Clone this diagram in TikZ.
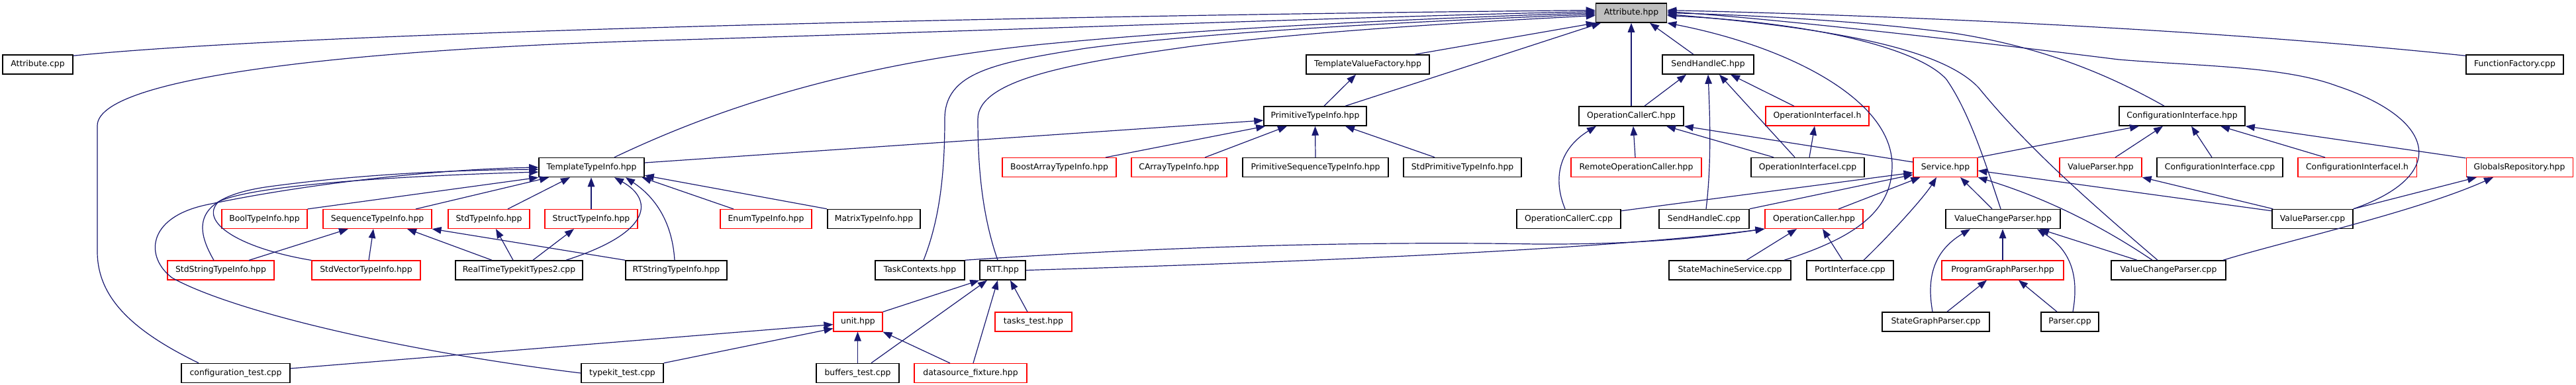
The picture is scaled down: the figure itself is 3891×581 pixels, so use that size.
\documentclass[tikz,border=0pt]{standalone}
\usepackage{fontspec}
\setmainfont{DejaVu Sans}
\usetikzlibrary{arrows.meta}
\definecolor{edgeblue}{HTML}{191970}
\definecolor{boxred}{HTML}{FF0000}
\definecolor{rootgray}{HTML}{BFBFBF}
\tikzset{
  nbox/.style={draw=black, line width=1.5pt, minimum height=29pt, inner xsep=3pt, inner ysep=0pt,
    font=\fontsize{12.4}{14}\selectfont, fill=white},
  rbox/.style={nbox, draw=boxred, line width=1.1pt},
  gbox/.style={nbox, fill=rootgray},
  dep/.style={draw=edgeblue, line width=1.2pt, -{Triangle[length=14pt,width=10.5pt]}},
}
\begin{document}
\begin{tikzpicture}[x=1pt,y=-1pt]
\useasboundingbox (0,0) rectangle (3891,581);
% row 0
\node[gbox, minimum width=107pt] (attrh) at (2464,19.5) {Attribute.hpp};
% row 1
\node[nbox, minimum width=106pt] (attrcpp) at (57,97.5) {Attribute.cpp};
\node[nbox, minimum width=186pt] (tvf) at (2066,97.5) {TemplateValueFactory.hpp};
\node[nbox, minimum width=138pt] (shch) at (2580,97.5) {SendHandleC.hpp};
\node[nbox, minimum width=147pt] (ffcpp) at (3798.5,97.5) {FunctionFactory.cpp};
% row 2
\node[nbox, minimum width=155pt] (pti) at (1986.5,175.5) {PrimitiveTypeInfo.hpp};
\node[nbox, minimum width=158pt] (occh) at (2464,175.5) {OperationCallerC.hpp};
\node[rbox, minimum width=156pt] (oiih) at (2745,175.5) {OperationInterfaceI.h};
\node[nbox, minimum width=190pt] (cih) at (3296,175.5) {ConfigurationInterface.hpp};
% row 3
\node[nbox, minimum width=159pt] (tti) at (893.5,253) {TemplateTypeInfo.hpp};
\node[rbox, minimum width=172pt] (bati) at (1600,253) {BoostArrayTypeInfo.hpp};
\node[rbox, minimum width=144pt] (cati) at (1781,253) {CArrayTypeInfo.hpp};
\node[nbox, minimum width=220pt] (psti) at (1987,253) {PrimitiveSequenceTypeInfo.hpp};
\node[nbox, minimum width=178pt] (spti) at (2209,253) {StdPrimitiveTypeInfo.hpp};
\node[rbox, minimum width=197pt] (roch) at (2471.5,253) {RemoteOperationCaller.hpp};
\node[nbox, minimum width=171pt] (oiicpp) at (2730.5,253) {OperationInterfaceI.cpp};
\node[rbox, minimum width=97pt] (svch) at (2938.5,253) {Service.hpp};
\node[rbox, minimum width=124pt] (vph) at (3173,253) {ValueParser.hpp};
\node[nbox, minimum width=190pt] (cicpp) at (3353,253) {ConfigurationInterface.cpp};
\node[rbox, minimum width=179pt] (ciih) at (3560.5,253) {ConfigurationInterfaceI.h};
\node[rbox, minimum width=161pt] (grh) at (3805.5,253) {GlobalsRepository.hpp};
% row 4
\node[rbox, minimum width=129pt] (boolti) at (399.5,331) {BoolTypeInfo.hpp};
\node[rbox, minimum width=164pt] (seqti) at (570,331) {SequenceTypeInfo.hpp};
\node[rbox, minimum width=123pt] (stdti) at (738.5,331) {StdTypeInfo.hpp};
\node[rbox, minimum width=140pt] (structti) at (893,331) {StructTypeInfo.hpp};
\node[rbox, minimum width=138pt] (enumti) at (1157,331) {EnumTypeInfo.hpp};
\node[nbox, minimum width=140pt] (matti) at (1320,331) {MatrixTypeInfo.hpp};
\node[nbox, minimum width=157pt] (occcpp) at (2369.5,331) {OperationCallerC.cpp};
\node[nbox, minimum width=136pt] (shccpp) at (2574,331) {SendHandleC.cpp};
\node[rbox, minimum width=148pt] (och) at (2740,331) {OperationCaller.hpp};
\node[nbox, minimum width=173pt] (vcph) at (3025.5,331) {ValueChangeParser.hpp};
\node[nbox, minimum width=122pt] (vpcpp) at (3493,331) {ValueParser.cpp};
% row 5
\node[rbox, minimum width=161pt] (sstrti) at (333.5,408.5) {StdStringTypeInfo.hpp};
\node[rbox, minimum width=164pt] (svecti) at (553,408.5) {StdVectorTypeInfo.hpp};
\node[nbox, minimum width=192pt] (rtkt) at (784,408.5) {RealTimeTypekitTypes2.cpp};
\node[nbox, minimum width=153pt] (rtsti) at (1021.5,408.5) {RTStringTypeInfo.hpp};
\node[nbox, minimum width=135pt] (tch) at (1389.5,408.5) {TaskContexts.hpp};
\node[nbox, minimum width=69pt] (rtth) at (1514.5,408.5) {RTT.hpp};
\node[nbox, minimum width=184pt] (smscpp) at (2613,408.5) {StateMachineService.cpp};
\node[nbox, minimum width=131pt] (picpp) at (2794.5,408.5) {PortInterface.cpp};
\node[rbox, minimum width=184pt] (pgph) at (3025,408.5) {ProgramGraphParser.hpp};
\node[nbox, minimum width=173pt] (vcpcpp) at (3275.5,408.5) {ValueChangeParser.cpp};
% row 6
\node[rbox, minimum width=74pt] (unith) at (1296,486.5) {unit.hpp};
\node[rbox, minimum width=116pt] (tth) at (1561,486.5) {tasks\_test.hpp};
\node[nbox, minimum width=162pt] (sgpcpp) at (2924,486.5) {StateGraphParser.cpp};
\node[nbox, minimum width=87pt] (pcpp) at (3126.5,486.5) {Parser.cpp};
% row 7
\node[nbox, minimum width=164pt] (ctcpp) at (356,564) {configuration\_test.cpp};
\node[nbox, minimum width=124pt] (ktcpp) at (940,564) {typekit\_test.cpp};
\node[nbox, minimum width=125pt] (btcpp) at (1295.5,564) {buffers\_test.cpp};
\node[rbox, minimum width=170pt] (dsfh) at (1466,564) {datasource\_fixture.hpp};

% ---- edges into Attribute.hpp
\draw[dep] ([yshift=-2pt]attrcpp.north east) .. controls (500,45) and (1700,22) .. ([yshift=4pt]attrh.west);
\draw[dep] ([xshift=-56pt]ctcpp.north) .. controls (200,500) and (147,450) .. (147,380) -- (147,190)
  .. controls (147,110) and (600,72) .. (1000,61) .. controls (1500,46) and (2100,24) .. ([yshift=2pt]attrh.west);
\draw[dep] ([xshift=34.5pt]tti.north) .. controls (1050,180) and (1250,100) .. (1574,67)
  .. controls (1850,40) and (2200,26) .. (attrh.west);
\draw[dep] ([xshift=5.5pt]tch.north) .. controls (1420,330) and (1427,260) .. (1427,180)
  .. controls (1427,110) and (1500,95) .. (1640,73) .. controls (1850,45) and (2200,30) .. ([yshift=-2pt]attrh.west);
\draw[dep] ([xshift=-7.5pt]rtth.north) .. controls (1485,330) and (1477,260) .. (1477,180)
  .. controls (1477,120) and (1620,95) .. (1800,70) .. controls (2000,45) and (2250,32) .. ([yshift=-4pt]attrh.west);
\draw[dep] ([xshift=71pt]tvf.north) -- (attrh.south west);
\draw[dep] ([xshift=45.5pt]pti.north) -- ([xshift=-46pt]attrh.south);
\draw[dep] (occh.north) -- (attrh.south);
\draw[dep] ([xshift=-22pt]shch.north) -- ([xshift=28pt]attrh.south);
\draw[dep] ([yshift=-2pt]ffcpp.north west) .. controls (3300,40) and (2800,22) .. ([yshift=4pt]attrh.east);
\draw[dep] (vpcpp.north east) .. controls (3700,265) and (3680,180) .. (3530,130)
  .. controls (3450,100) and (3320,100) .. (3200,90) .. controls (3000,65) and (2700,30) .. ([yshift=2pt]attrh.east);
\draw[dep] ([xshift=-27pt]cih.north) .. controls (3180,110) and (3080,70) .. (2950,50)
  .. controls (2800,30) and (2620,22) .. (attrh.east);
\draw[dep] ([xshift=-16.5pt]vcpcpp.north) .. controls (3150,300) and (3060,220) .. (2989,133)
  .. controls (2940,80) and (2800,45) .. ([yshift=-2pt]attrh.east);
\draw[dep] ([xshift=-3.5pt]vcph.north) .. controls (3000,250) and (2975,170) .. (2940,120)
  .. controls (2900,75) and (2750,35) .. ([yshift=-4pt]attrh.east);
\draw[dep] ([xshift=82pt]smscpp.north) .. controls (2800,360) and (2858,320) .. (2858,250)
  .. controls (2858,150) and (2700,70) .. (attrh.south east);

% ---- TemplateTypeInfo.hpp
\draw[dep] ([yshift=7pt]tti.east) -- ([yshift=-6.5pt]pti.west);
\draw[dep] (boolti.north east) -- (tti.south west);
\draw[dep] ([xshift=58pt]seqti.north) -- ([xshift=-64.5pt]tti.south);
\draw[dep] ([xshift=28.5pt]stdti.north) -- ([xshift=-32.5pt]tti.south);
\draw[dep] (structti.north) -- ([xshift=-0.5pt]tti.south);
\draw[dep] ([xshift=-10.5pt]sstrti.north) .. controls (295,345) and (290,300) .. (400,283)
  .. controls (550,262) and (700,257) .. ([yshift=-3pt]tti.west);
\draw[dep] (svecti.north west) .. controls (360,375) and (300,335) .. (330,305)
  .. controls (380,280) and (600,266) .. ([yshift=-7pt]tti.west);
\draw[dep] (ktcpp.west) .. controls (600,530) and (350,470) .. (260,420)
  .. controls (220,390) and (220,330) .. (310,310) .. controls (450,280) and (650,256) .. (tti.west);
\draw[dep] ([xshift=71pt]rtkt.north) .. controls (990,350) and (985,300) .. ([xshift=34.5pt]tti.south);
\draw[dep] ([xshift=-2.5pt]rtsti.north) .. controls (1015,330) and (985,295) .. ([xshift=51.5pt]tti.south);
\draw[dep] ([xshift=-49pt]enumti.north) -- ([xshift=-4pt]tti.south east);
\draw[dep] ([xshift=-71pt]matti.north) -- ([yshift=3pt]tti.south east);

% ---- SequenceTypeInfo etc.
\draw[dep] ([xshift=42.5pt]sstrti.north) -- ([xshift=-44pt]seqti.south);
\draw[dep] ([xshift=4pt]svecti.north) -- ([xshift=-6pt]seqti.south);
\draw[dep] ([xshift=-41pt]rtkt.north) -- ([xshift=45pt]seqti.south);
\draw[dep] ([xshift=-77.5pt]rtsti.north) -- (seqti.south east);
\draw[dep] ([xshift=-9pt]rtkt.north) -- ([xshift=10.5pt]stdti.south);
\draw[dep] ([xshift=21pt]rtkt.north) -- ([xshift=-26pt]structti.south);

% ---- PrimitiveTypeInfo.hpp
\draw[dep] ([xshift=70pt]bati.north) -- ([xshift=3pt]pti.south west);
\draw[dep] ([xshift=39pt]cati.north) -- ([xshift=-42.5pt]pti.south);
\draw[dep] (psti.north) -- (pti.south);
\draw[dep] ([xshift=-42pt]spti.north) -- ([xshift=45.5pt]pti.south);
\draw[dep] ([xshift=13.5pt]pti.north) -- ([xshift=-18pt]tvf.south);

% ---- SendHandleC.hpp
\draw[dep] ([xshift=20pt]occh.north) -- ([xshift=-33pt]shch.south);
\draw[dep] ([xshift=3pt]shccpp.north) .. controls (2585,250) and (2583,180) .. (shch.south);
\draw[dep] ([xshift=-19.5pt]oiicpp.north) -- ([xshift=17pt]shch.south);
\draw[dep] ([xshift=-35pt]oiih.north) -- ([xshift=34pt]shch.south);

% ---- OperationCallerC.hpp
\draw[dep] ([xshift=-5.5pt]occcpp.north) .. controls (2345,270) and (2355,225) .. ([xshift=-53pt]occh.south);
\draw[dep] ([xshift=-1.5pt]roch.north) -- ([xshift=3pt]occh.south);
\draw[dep] ([xshift=-51.5pt]oiicpp.north) -- ([xshift=53pt]occh.south);
\draw[dep] ([yshift=8pt]svch.west) -- (occh.south east);
\draw[dep] ([xshift=2.5pt]oiicpp.north) -- ([xshift=-4pt]oiih.south);

% ---- Service.hpp
\draw[dep] (svch.north east) -- ([xshift=-65pt]cih.south);
\draw[dep] ([yshift=-3pt]occcpp.north east) -- ([yshift=-8pt]svch.west);
\draw[dep] (shccpp.north east) -- ([yshift=-11pt]svch.west);
\draw[dep] ([xshift=37pt]och.north) -- ([xshift=11pt]svch.south west);
\draw[dep] ([xshift=20.5pt]picpp.north) .. controls (2850,360) and (2905,300) .. ([xshift=-13.5pt]svch.south);
\draw[dep] ([xshift=-16.5pt]vcph.north) -- ([xshift=22.5pt]svch.south);
\draw[dep] ([yshift=-3pt]vpcpp.north west) -- ([yshift=-5pt]svch.east);
\draw[dep] ([xshift=-24.5pt]vcpcpp.north) .. controls (3150,325) and (3060,290) .. (svch.south east);

% ---- OperationCaller.hpp
\draw[dep] ([xshift=25pt]smscpp.north) -- ([xshift=-26pt]och.south);
\draw[dep] ([xshift=-11.5pt]picpp.north) -- ([xshift=13pt]och.south);
\draw[dep] (tch.north east) .. controls (1800,370) and (2100,365) .. (2320,369)
  .. controls (2500,370) and (2600,355) .. (och.south west);
\draw[dep] (rtth.east) .. controls (1900,398) and (2400,380) .. (och.south west);

% ---- ConfigurationInterface.hpp
\draw[dep] ([xshift=22pt]vph.north) -- ([xshift=-29pt]cih.south);
\draw[dep] ([xshift=-12pt]cicpp.north) -- ([xshift=14pt]cih.south);
\draw[dep] ([xshift=-48.5pt]ciih.north) -- ([xshift=58pt]cih.south);
\draw[dep] ([yshift=-1pt]grh.north west) -- (cih.south east);
\draw[dep] ([xshift=2pt]vpcpp.north west) -- (vph.south east);
\draw[dep] (vpcpp.north east) -- ([xshift=-64.5pt]grh.south);
\draw[dep] ([xshift=82.5pt]vcpcpp.north) .. controls (3450,365) and (3650,320) .. ([xshift=-39.5pt]grh.south);

% ---- ValueChangeParser.hpp / ProgramGraphParser.hpp
\draw[dep] (pgph.north) -- ([xshift=-0.5pt]vcph.south);
\draw[dep] ([xshift=-5pt]sgpcpp.north) .. controls (2910,420) and (2920,380) .. ([xshift=-49.5pt]vcph.south);
\draw[dep] ([xshift=4.5pt]pcpp.north) .. controls (3140,420) and (3130,380) .. ([xshift=51.5pt]vcph.south);
\draw[dep] ([xshift=-47.5pt]vcpcpp.north) -- ([xshift=55.5pt]vcph.south);
\draw[dep] ([xshift=17pt]sgpcpp.north) -- ([xshift=-24pt]pgph.south);
\draw[dep] ([xshift=-19.5pt]pcpp.north) -- ([xshift=24pt]pgph.south);

% ---- RTT.hpp / unit.hpp
\draw[dep] (unith.north east) -- (rtth.south west);
\draw[dep] ([xshift=20.5pt]btcpp.north) -- ([xshift=-23.5pt]rtth.south);
\draw[dep] ([xshift=4pt]dsfh.north) -- ([xshift=-7.5pt]rtth.south);
\draw[dep] ([xshift=-9pt]tth.north) -- ([xshift=11.5pt]rtth.south);
\draw[dep] (btcpp.north) -- ([xshift=-0.5pt]unith.south);
\draw[dep] ([xshift=-31pt]dsfh.north) -- (unith.south east);
\draw[dep] ([yshift=7pt]ctcpp.east) -- ([yshift=-4pt]unith.west);
\draw[dep] (ktcpp.north east) -- ([yshift=-10pt]unith.west);
\end{tikzpicture}
\end{document}
